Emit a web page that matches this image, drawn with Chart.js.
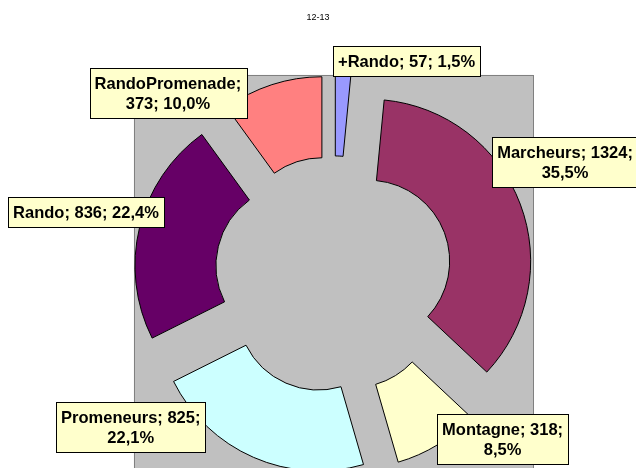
<!DOCTYPE html>
<html>
<head>
<meta charset="utf-8">
<script src="https://cdn.jsdelivr.net/npm/chart.js@4.4.1/dist/chart.umd.min.js"></script>
<style>
html, body { margin: 0; padding: 0; background: #ffffff; }
#wrap { width: 636px; height: 468px; }
</style>
</head>
<body>
<div id="wrap"><canvas id="c" width="636" height="468"></canvas></div>
<script>
// ---- data ----
const chartTitle = '12-13';
const categories = ['+Rando', 'Marcheurs', 'Montagne', 'Promeneurs', 'Rando', 'RandoPromenade'];
const values = [57, 1324, 318, 825, 836, 373];

// ---- styles / layout ----
const sliceColors = ['#9999FF', '#993366', '#FFFFCC', '#CCFFFF', '#660066', '#FF8080'];
// data label placement: clockwise angle from 12 o'clock (degrees) and distance in outer radii
const labelAngles = [18.9, 64.1, 134.2, 233.1, 284.2, 317.6];
const labelDistances = [1.393, 1.589, 1.456, 1.565, 1.576, 1.516];
const explodeRatio = 0.232;          // slice explosion as a fraction of the outer radius
const FONT = '"Liberation Sans", Arial, Helvetica, sans-serif';
const labelFont = 'bold 16.5px ' + FONT;
const titleFont = '9px ' + FONT;
const labelMaxWidth = 155;
const labelLineHeight = 20;
const labelPadX = 5, labelPadY = 5;

const total = values.reduce((a, b) => a + b, 0);
function pct(v) { return (v / total * 100).toFixed(1).replace('.', ',') + '%'; }
const labelTexts = categories.map((c, i) => c + '; ' + values[i] + '; ' + pct(values[i]));

function wrap(ctx, text, maxW) {
  const words = text.split(' ');
  const lines = [];
  let cur = '';
  for (const w of words) {
    const t = cur ? cur + ' ' + w : w;
    if (cur && ctx.measureText(t).width > maxW) { lines.push(cur); cur = w; }
    else cur = t;
  }
  if (cur) lines.push(cur);
  return lines;
}

const explodedArcs = {
  id: 'explodedArcs',
  beforeDatasetsDraw(chart) {
    const meta = chart.getDatasetMeta(0);
    const a0 = meta.data[0];
    if (!a0) return;
    const ctx = chart.ctx;
    const half = a0.outerRadius * (1 + explodeRatio);
    ctx.save();
    ctx.fillStyle = '#C0C0C0';
    ctx.fillRect(a0.x - half, a0.y - half, half * 2, half * 2);
    ctx.strokeStyle = '#808080';
    ctx.lineWidth = 1;
    ctx.strokeRect(Math.round(a0.x - half) + 0.5, Math.round(a0.y - half) + 0.5, Math.round(half * 2), Math.round(half * 2));
    ctx.restore();
  },
  beforeDatasetDraw(chart, args) {
    const ctx = chart.ctx;
    const meta = args.meta;
    meta.data.forEach(arc => {
      const mid = (arc.startAngle + arc.endAngle) / 2;
      const d = arc.outerRadius * explodeRatio;
      ctx.save();
      ctx.translate(Math.cos(mid) * d, Math.sin(mid) * d);
      arc.draw(ctx);
      ctx.restore();
    });
    return false;
  },
  afterDraw(chart) {
    const meta = chart.getDatasetMeta(0);
    const ctx = chart.ctx;
    ctx.save();
    // chart title, centred on the canvas
    ctx.font = titleFont;
    ctx.fillStyle = '#000000';
    ctx.textAlign = 'center';
    ctx.textBaseline = 'middle';
    ctx.fillText(chartTitle, chart.width / 2, 18);
    // data labels
    ctx.font = labelFont;
    meta.data.forEach((arc, i) => {
      const ang = labelAngles[i] * Math.PI / 180;
      const dist = labelDistances[i] * arc.outerRadius;
      const cx = arc.x + Math.sin(ang) * dist;
      const cy = arc.y - Math.cos(ang) * dist;
      const lines = wrap(ctx, labelTexts[i], labelMaxWidth);
      const w = Math.max(...lines.map(l => ctx.measureText(l).width)) + labelPadX * 2;
      const h = lines.length * labelLineHeight + labelPadY * 2;
      const x0 = Math.round(cx - w / 2) + 0.5, y0 = Math.round(cy - h / 2) + 0.5;
      ctx.fillStyle = '#FFFFCC';
      ctx.fillRect(x0, y0, Math.round(w), Math.round(h));
      ctx.strokeStyle = '#000000';
      ctx.lineWidth = 1;
      ctx.strokeRect(x0, y0, Math.round(w), Math.round(h));
      ctx.fillStyle = '#000000';
      lines.forEach((l, k) => {
        ctx.fillText(l, cx, y0 + labelPadY + labelLineHeight * (k + 0.5) + 0.5);
      });
    });
    ctx.restore();
  }
};

new Chart(document.getElementById('c'), {
  type: 'doughnut',
  data: {
    labels: categories,
    datasets: [{
      data: values,
      backgroundColor: sliceColors,
      borderColor: '#000000',
      borderWidth: 1,
      radius: 162,
      cutout: '50%'
    }]
  },
  options: {
    responsive: false,
    animation: false,
    rotation: 0,
    layout: { padding: { left: 31, right: 0, top: 81, bottom: 0 } },
    plugins: {
      legend: { display: false },
      tooltip: { enabled: false },
      title: { display: false }
    }
  },
  plugins: [explodedArcs]
});
</script>
</body>
</html>
